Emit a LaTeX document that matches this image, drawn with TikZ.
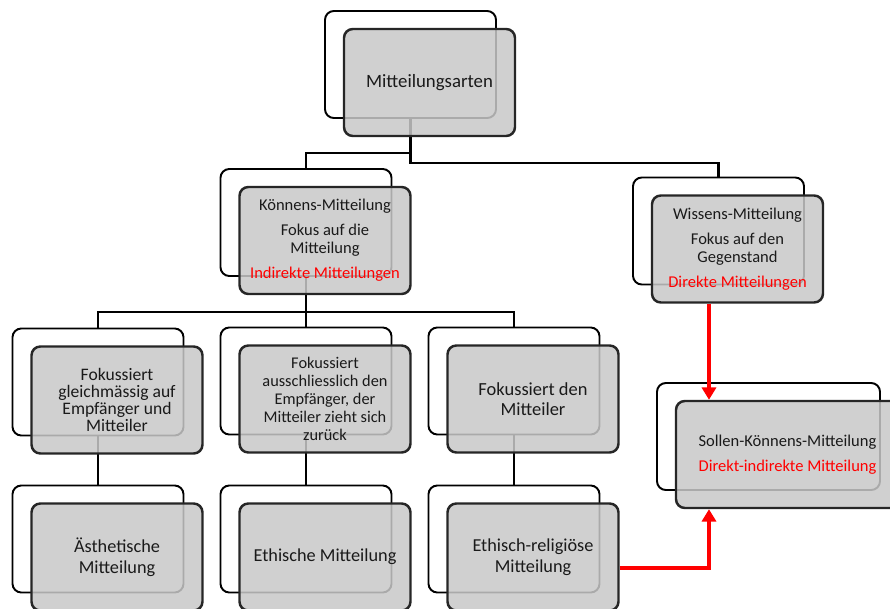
\documentclass[tikz,border=0pt]{standalone}
\usepackage{fontspec}
\setmainfont{Carlito}
\usetikzlibrary{arrows.meta,positioning}
\definecolor{boxgray}{HTML}{C8C8C8}
\definecolor{txtdark}{HTML}{1A1A1A}
\definecolor{redline}{HTML}{FF0000}
\newcommand{\fbig}{\fontsize{10.6}{11.6}\selectfont}
\newcommand{\fmid}{\fontsize{9.4}{10.2}\selectfont}
\tikzset{
		>={Triangle[length=7pt,width=8pt]},
		backbox/.style={draw=black, line width=1.1pt, fill=white, rounded corners=5pt,
			minimum width=3.42cm, minimum height=2.14cm},
		frontbox/.style={draw=black!85, line width=1.4pt, fill=boxgray, fill opacity=0.85,
			text opacity=1, rounded corners=5pt, minimum width=3.42cm, minimum height=2.14cm,
			align=center, text=txtdark},
		link/.style={line width=1.6pt, black},
		redlink/.style={line width=1.9pt, redline, ->}
	}

\begin{document}
\begin{tikzpicture}
          \clip (0,0) rectangle (17.8,-12.18);

          % hintere Kaesten
          \node[backbox] (topB) at (8.21,-1.29) {};
          \node[backbox] (konB) at (6.12,-4.45) {};
          \node[backbox] (wisB) at (14.37,-4.62) {};
          \node[backbox] (l3aB) at (1.96,-7.64) {};
          \node[backbox] (l3bB) at (6.12,-7.62) {};
          \node[backbox] (l3cB) at (10.28,-7.62) {};
          \node[backbox] (l4aB) at (1.96,-10.78) {};
          \node[backbox] (l4bB) at (6.12,-10.78) {};
          \node[backbox] (l4cB) at (10.28,-10.78) {};
          \node[backbox, minimum width=4.46cm] (solB) at (15.37,-8.73) {};

          % Verbindungen
          \draw[link] (topB.south) -- ++(0,-0.68) -| (konB.north);
          \draw[link] (topB.south) -- ++(0,-0.88) -| (wisB.north);
          \draw[link] (konB.south) -- ++(0,-0.7) -| (l3aB.north);
          \draw[link] (konB.south) -- (l3bB.north);
          \draw[link] (konB.south) -- ++(0,-0.7) -| (l3cB.north);
          \draw[link] (l3aB.south) -- (l4aB.north);
          \draw[link] (l3bB.south) -- (l4bB.north);
          \draw[link] (l3cB.south) -- (l4cB.north);

          % vordere Kaesten
          \node[frontbox, font=\fontsize{10.7}{11.6}\selectfont] (topF) at ([shift={(0.38,-0.36)}]topB) {Mitteilungsarten};
          \node[frontbox, font=\fmid] (konF) at ([shift={(0.38,-0.36)}]konB)
               {Könnens-Mitteilung\\[4pt]Fokus auf die\\Mitteilung\\[4pt]\textcolor{redline}{Indirekte Mitteilungen}};
          \node[frontbox, font=\fmid] (wisF) at ([shift={(0.38,-0.36)}]wisB)
               {Wissens-Mitteilung\\[4pt]Fokus auf den\\Gegenstand\\[4pt]\textcolor{redline}{Direkte Mitteilungen}};
          \node[frontbox, font=\fontsize{10}{9.6}\selectfont] (l3aF) at ([shift={(0.38,-0.36)}]l3aB)
               {Fokussiert\\gleichmässig auf\\Empfänger und\\Mitteiler};
          \node[frontbox, font=\fontsize{9.3}{10.2}\selectfont] (l3bF) at ([shift={(0.38,-0.36)}]l3bB)
               {Fokussiert\\ausschliesslich den\\Empfänger, der\\Mitteiler zieht sich\\zurück};
          \node[frontbox, font=\fontsize{10.5}{11.3}\selectfont] (l3cF) at ([shift={(0.38,-0.36)}]l3cB)
               {Fokussiert den\\Mitteiler};
          \node[frontbox, font=\fontsize{10.4}{11.9}\selectfont] (l4aF) at ([shift={(0.38,-0.36)}]l4aB)
               {Ästhetische\\Mitteilung};
          \node[frontbox, font=\fontsize{10.4}{11.9}\selectfont] (l4bF) at ([shift={(0.38,-0.36)}]l4bB)
               {Ethische Mitteilung};
          \node[frontbox, font=\fontsize{10.4}{11.9}\selectfont] (l4cF) at ([shift={(0.38,-0.36)}]l4cB)
               {Ethisch-religiöse\\Mitteilung};
          \node[frontbox, font=\fmid, minimum width=4.46cm] (solF) at ([shift={(0.38,-0.36)}]solB)
               {Sollen-Könnens-Mitteilung\\[4pt]\textcolor{redline}{Direkt-indirekte Mitteilung}};

          % rote Pfeile
          \coordinate (rx) at (14.18,0);
          \coordinate (ry) at (0,-11.36);
          \draw[redlink] (wisF.south -| rx) -- (solF.north -| rx);
          \draw[redlink] (l4cF.east |- ry) -| (solF.south -| rx);
\end{tikzpicture}
\end{document}
